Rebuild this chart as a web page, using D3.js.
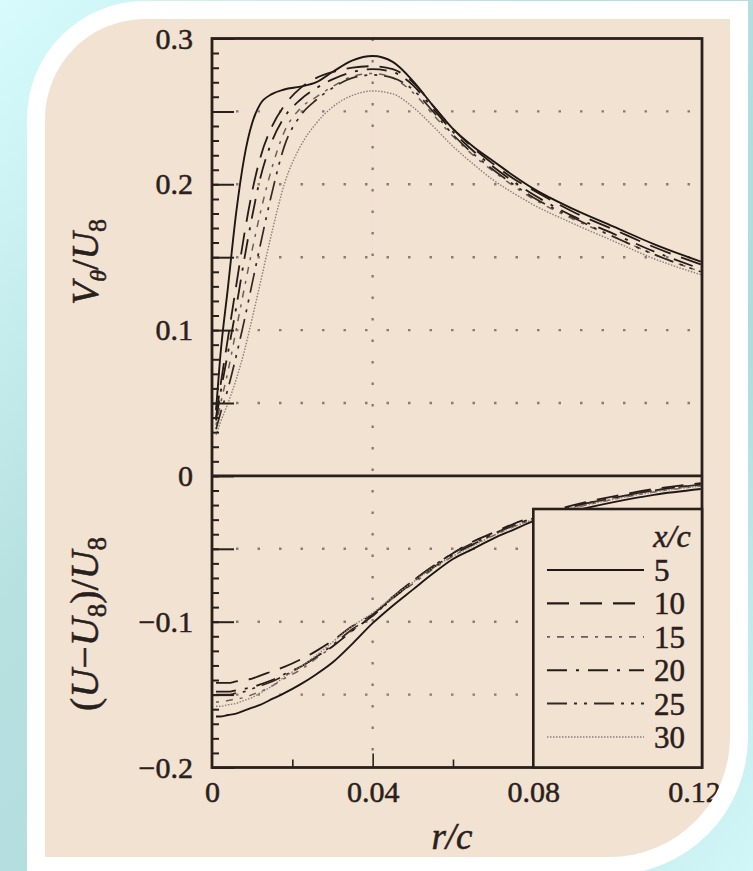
<!DOCTYPE html>
<html>
<head>
<meta charset="utf-8">
<script src="https://cdn.jsdelivr.net/npm/d3@7"></script>
<style>
  body { margin: 0; background: #fff; }
  svg { display: block; }
  text { font-family: "Liberation Serif", "Times New Roman", serif; fill: #2a201b; stroke: #2a201b; stroke-width: 0.5px; }
</style>
</head>
<body>
<svg id="chart"></svg>
<script>
const W = 753, H = 871;

// r/c sample positions shared by every curve
const rc = [0.001, 0.002, 0.004, 0.006, 0.008, 0.010, 0.012, 0.015, 0.018, 0.022, 0.026, 0.030,
            0.035, 0.040, 0.045, 0.050, 0.055, 0.060, 0.065, 0.070, 0.075, 0.080, 0.090, 0.100, 0.110, 0.1217];

const xcLabels = ["5", "10", "15", "20", "25", "30"];

// V_theta / U_inf
const vt5  = [0.045, 0.080, 0.130, 0.180, 0.218, 0.242, 0.255, 0.262, 0.265, 0.267, 0.270, 0.277, 0.285, 0.288, 0.284, 0.271, 0.254, 0.238, 0.226, 0.216, 0.206, 0.197, 0.183, 0.171, 0.159, 0.147];
const vt10 = [0.040, 0.060, 0.095, 0.130, 0.165, 0.195, 0.218, 0.240, 0.254, 0.266, 0.273, 0.277, 0.280, 0.281, 0.279, 0.270, 0.254, 0.238, 0.225, 0.214, 0.204, 0.196, 0.181, 0.169, 0.157, 0.145];
const vt15 = [0.035, 0.048, 0.072, 0.100, 0.128, 0.155, 0.180, 0.212, 0.236, 0.252, 0.260, 0.267, 0.274, 0.276, 0.273, 0.263, 0.248, 0.233, 0.220, 0.209, 0.199, 0.190, 0.176, 0.164, 0.152, 0.140];
const vt20 = [0.038, 0.055, 0.085, 0.115, 0.148, 0.178, 0.204, 0.230, 0.246, 0.258, 0.266, 0.272, 0.277, 0.279, 0.277, 0.268, 0.252, 0.236, 0.223, 0.212, 0.202, 0.193, 0.178, 0.166, 0.154, 0.142];
const vt25 = [0.032, 0.042, 0.060, 0.082, 0.106, 0.132, 0.158, 0.195, 0.226, 0.247, 0.258, 0.266, 0.273, 0.275, 0.273, 0.265, 0.250, 0.234, 0.221, 0.210, 0.200, 0.191, 0.177, 0.164, 0.152, 0.140];
const vt30 = [0.028, 0.036, 0.050, 0.066, 0.085, 0.108, 0.132, 0.168, 0.200, 0.226, 0.242, 0.253, 0.261, 0.264, 0.262, 0.253, 0.240, 0.226, 0.214, 0.203, 0.194, 0.186, 0.173, 0.161, 0.149, 0.138];

// (U - U_inf) / U_inf
const du5  = [-0.165, -0.165, -0.164, -0.163, -0.161, -0.159, -0.157, -0.153, -0.149, -0.143, -0.136, -0.128, -0.115, -0.101, -0.089, -0.078, -0.067, -0.057, -0.050, -0.043, -0.037, -0.031, -0.024, -0.018, -0.013, -0.009];
const du10 = [-0.142, -0.142, -0.142, -0.141, -0.140, -0.139, -0.137, -0.134, -0.131, -0.126, -0.120, -0.113, -0.103, -0.095, -0.083, -0.072, -0.062, -0.053, -0.045, -0.039, -0.033, -0.028, -0.020, -0.014, -0.009, -0.005];
const du15 = [-0.155, -0.155, -0.154, -0.153, -0.152, -0.150, -0.148, -0.144, -0.139, -0.133, -0.125, -0.117, -0.106, -0.096, -0.084, -0.074, -0.064, -0.055, -0.047, -0.041, -0.035, -0.030, -0.022, -0.016, -0.011, -0.007];
const du20 = [-0.148, -0.148, -0.148, -0.147, -0.146, -0.145, -0.143, -0.140, -0.136, -0.131, -0.124, -0.117, -0.106, -0.096, -0.084, -0.073, -0.063, -0.054, -0.047, -0.040, -0.034, -0.029, -0.021, -0.015, -0.010, -0.006];
const du25 = [-0.150, -0.150, -0.150, -0.149, -0.148, -0.146, -0.144, -0.141, -0.137, -0.131, -0.124, -0.116, -0.105, -0.096, -0.083, -0.072, -0.062, -0.053, -0.046, -0.040, -0.034, -0.029, -0.021, -0.015, -0.010, -0.006];
const du30 = [-0.158, -0.158, -0.157, -0.156, -0.154, -0.152, -0.149, -0.144, -0.138, -0.131, -0.123, -0.114, -0.103, -0.094, -0.083, -0.073, -0.063, -0.055, -0.048, -0.041, -0.035, -0.030, -0.022, -0.016, -0.011, -0.007];

const yLabelTicks = [-0.2, -0.1, 0, 0.1, 0.2, 0.3];
const xLabelTicks = [0, 0.04, 0.08, 0.12];
const gridTop = [0.05, 0.1, 0.15, 0.2, 0.25];
const gridBottom = [-0.15, -0.1, -0.05];

const topSeries = [vt5, vt10, vt15, vt20, vt25, vt30];
const bottomSeries = [du5, du10, du15, du20, du25, du30];

// line styles per x/c
const dashes = ["none", "22,11", "3,7,7,7", "20,9,3,9", "20,7,3,7,3,7", "1.5,1.5"];
const colors = ["#1f1713", "#261c17", "#6a5e57", "#261c17", "#332822", "#8a7f78"];
const widths = [1.9, 1.8, 1.5, 1.8, 1.7, 1.4];

const svg = d3.select("#chart").attr("width", W).attr("height", H);

// ---- decorative frame ----
const defs = svg.append("defs");
const bg = defs.append("linearGradient").attr("id", "bg")
    .attr("x1", 0).attr("y1", 0).attr("x2", 1).attr("y2", 1);
bg.append("stop").attr("offset", "0%").attr("stop-color", "#d8fcfe");
bg.append("stop").attr("offset", "35%").attr("stop-color", "#b7e0e1");
bg.append("stop").attr("offset", "70%").attr("stop-color", "#b0dcdc");
bg.append("stop").attr("offset", "100%").attr("stop-color", "#d2f7f8");

svg.append("rect").attr("width", W).attr("height", H).attr("fill", "url(#bg)");

svg.append("path")
    .attr("d", "M27,880 L27,119 A118,118 0 0 1 145,1 L748,1 L748,737 A138,138 0 0 1 610,875 L610,880 Z")
    .attr("fill", "#ffffff");

const panelPath = "M45,857 L45,119 A100,100 0 0 1 145,19 L730,19 L730,737 A120,120 0 0 1 610,857 Z";
svg.append("path").attr("d", panelPath).attr("fill", "#f2e2d2");
defs.append("clipPath").attr("id", "panel").append("path").attr("d", panelPath);

const g = svg.append("g").attr("clip-path", "url(#panel)");

// ---- scales ----
const x = d3.scaleLinear().domain([0, 0.122]).range([212, 702]);
const y = d3.scaleLinear().domain([-0.2, 0.3]).range([767.5, 38.5]);
const ink = "#2a201b";
const fmt = d => d === 0 ? "0" : (d < 0 ? "\u2212" + d3.format(".1f")(-d) : d3.format(".1f")(d));
const fmtX = d => d === 0 ? "0" : d3.format(".2f")(d);

// ---- gridlines ----
const gridStyle = sel => sel.attr("stroke", "#5e524b").attr("stroke-width", 2.4)
    .attr("stroke-dasharray", "2.5,19").attr("opacity", 0.7);

g.selectAll("line.gt").data(gridTop).enter().append("line")
    .attr("x1", x(0) + 24).attr("x2", x(0.122))
    .attr("y1", d => y(d)).attr("y2", d => y(d)).call(gridStyle);
g.selectAll("line.gb").data(gridBottom).enter().append("line")
    .attr("x1", x(0) + 24).attr("x2", x(0.08))
    .attr("y1", d => y(d)).attr("y2", d => y(d)).call(gridStyle);
g.append("line").attr("x1", x(0.04)).attr("x2", x(0.04))
    .attr("y1", y(0.3)).attr("y2", y(-0.2)).call(gridStyle);

// ---- curves ----
const line = d3.line().x((d, i) => x(rc[i])).y(d => y(d)).curve(d3.curveMonotoneX);

[topSeries, bottomSeries].forEach(series => {
    series.forEach((vals, k) => {
        g.append("path").datum(vals)
            .attr("d", line)
            .attr("fill", "none")
            .attr("stroke", colors[k])
            .attr("stroke-width", widths[k])
            .attr("stroke-dasharray", dashes[k]);
    });
});

// ---- axes ----
const minor = d3.range(-0.2, 0.3001, 0.01).map(v => +v.toFixed(2));
g.append("g").attr("transform", `translate(${x(0)},0)`)
    .call(d3.axisLeft(y).tickValues(minor).tickSize(-7).tickFormat(""))
    .call(a => a.select(".domain").remove())
    .selectAll("line").attr("stroke", ink).attr("stroke-width", 2);
g.append("g").attr("transform", `translate(${x(0)},0)`)
    .call(d3.axisLeft(y).tickValues(d3.range(-0.2, 0.3001, 0.05).map(v => +v.toFixed(2))).tickSize(-22).tickFormat(""))
    .call(a => a.select(".domain").remove())
    .selectAll("line").attr("stroke", ink).attr("stroke-width", 2);

g.append("g").attr("transform", `translate(0,${y(-0.2)})`)
    .call(d3.axisBottom(x).tickValues([0.02, 0.06, 0.1]).tickSize(-8).tickFormat(""))
    .call(a => a.select(".domain").remove())
    .selectAll("line").attr("stroke", ink).attr("stroke-width", 1.6);
g.append("g").attr("transform", `translate(0,${y(-0.2)})`)
    .call(d3.axisBottom(x).tickValues([0.04, 0.08]).tickSize(-14).tickFormat(""))
    .call(a => a.select(".domain").remove())
    .selectAll("line").attr("stroke", ink).attr("stroke-width", 1.6);

// tick labels
const yl = g.append("g").attr("transform", `translate(${x(0)},0)`)
    .call(d3.axisLeft(y).tickValues(yLabelTicks).tickSize(0).tickPadding(19).tickFormat(fmt));
yl.select(".domain").remove();
yl.selectAll("text").attr("font-size", 30).attr("fill", ink);
yl.attr("font-family", null);

const xl = g.append("g").attr("transform", `translate(0,${y(-0.2)})`)
    .call(d3.axisBottom(x).tickValues(xLabelTicks).tickSize(0).tickPadding(13).tickFormat(fmtX));
xl.select(".domain").remove();
xl.selectAll("text").attr("font-size", 30).attr("fill", ink);
xl.attr("font-family", null);

// frame and zero line
g.append("rect")
    .attr("x", x(0)).attr("y", y(0.3))
    .attr("width", x(0.122) - x(0)).attr("height", y(-0.2) - y(0.3))
    .attr("fill", "none").attr("stroke", ink).attr("stroke-width", 2.8);
g.append("line").attr("x1", x(0)).attr("x2", x(0.122))
    .attr("y1", y(0)).attr("y2", y(0)).attr("stroke", ink).attr("stroke-width", 2.6);

// ---- legend ----
const lg = g.append("g");
lg.append("rect")
    .attr("x", x(0.08)).attr("y", 509)
    .attr("width", x(0.122) - x(0.08)).attr("height", y(-0.2) - 509)
    .attr("fill", "#f2e2d2").attr("stroke", ink).attr("stroke-width", 2.6);
lg.append("text").attr("x", 672).attr("y", 547).attr("text-anchor", "middle")
    .attr("font-size", 32).attr("font-style", "italic").text("x/c");
xcLabels.forEach((lab, k) => {
    const yy = 570 + k * 33.4;
    lg.append("line").attr("x1", 547).attr("x2", 644).attr("y1", yy).attr("y2", yy)
        .attr("stroke", colors[k]).attr("stroke-width", widths[k] + 0.3)
        .attr("stroke-dasharray", dashes[k]);
    lg.append("text").attr("x", 654).attr("y", yy + 11).attr("font-size", 31).text(lab);
});

// ---- axis titles ----
g.append("text").attr("x", 452).attr("y", 849).attr("text-anchor", "middle")
    .attr("font-size", 37).attr("font-style", "italic").text("r/c");

const t1 = g.append("text").attr("transform", "translate(98,262) rotate(-90)")
    .attr("text-anchor", "middle").attr("font-size", 38);
t1.append("tspan").attr("font-style", "italic").text("V");
t1.append("tspan").attr("font-style", "italic").attr("font-size", 24).attr("dy", 8).text("\u03b8");
t1.append("tspan").attr("dy", -8).text("/");
t1.append("tspan").attr("font-style", "italic").text("U");
t1.append("tspan").attr("font-size", 26).attr("dy", 8).text("8");

const t2 = g.append("text").attr("transform", "translate(98,624) rotate(-90)")
    .attr("text-anchor", "middle").attr("font-size", 40);
t2.append("tspan").text("(");
t2.append("tspan").attr("font-style", "italic").text("U");
t2.append("tspan").text("\u2212");
t2.append("tspan").attr("font-style", "italic").text("U");
t2.append("tspan").attr("font-size", 27).attr("dy", 8).text("8");
t2.append("tspan").attr("dy", -8).text(")/");
t2.append("tspan").attr("font-style", "italic").text("U");
t2.append("tspan").attr("font-size", 27).attr("dy", 8).text("8");
</script>
</body>
</html>
